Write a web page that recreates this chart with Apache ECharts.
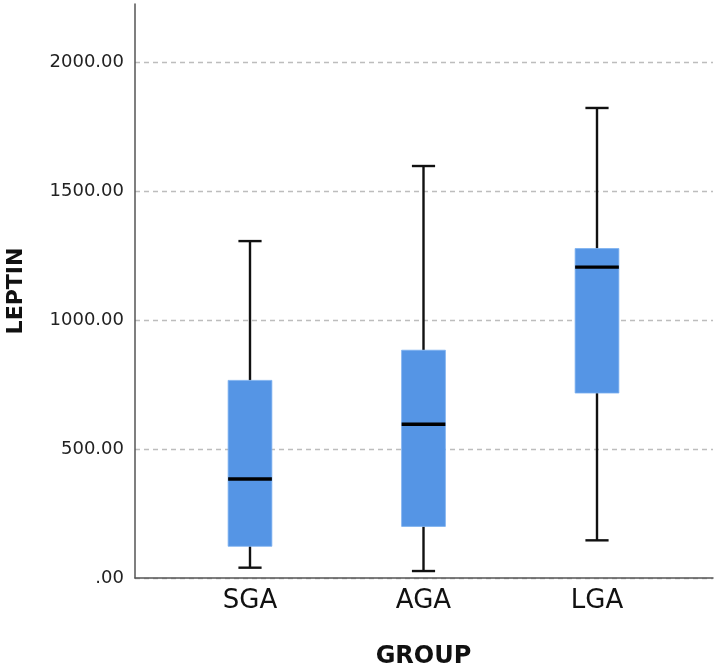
<!DOCTYPE html>
<html>
<head>
<meta charset="utf-8">
<script src="https://cdn.jsdelivr.net/npm/echarts@6/dist/echarts.min.js"></script>
<style>
html,body{margin:0;padding:0;background:#fff;}
#chart{width:717px;height:669px;}
</style>
</head>
<body>
<div id="chart"></div>
<script>
// Data
var categories = ['SGA', 'AGA', 'LGA'];
var whiskerLow = [40, 27, 146];
var q1Values = [123, 200, 717];
var medians = [384, 596, 1205];
var q3Values = [766, 883, 1277];
var whiskerHigh = [1306, 1597, 1822];
var yTicks = [0, 500, 1000, 1500, 2000];
var yMax = 2225;

var chart = echarts.init(document.getElementById('chart'), null, {renderer: 'canvas'});

var boxData = categories.map(function (c, i) {
  return [i, whiskerLow[i], q1Values[i], medians[i], q3Values[i], whiskerHigh[i]];
});

function renderBox(params, api) {
  var x = api.value(0);
  var pLow = api.coord([x, api.value(1)]);
  var pQ1 = api.coord([x, api.value(2)]);
  var pMed = api.coord([x, api.value(3)]);
  var pQ3 = api.coord([x, api.value(4)]);
  var pHigh = api.coord([x, api.value(5)]);
  var band = api.size([1, 0])[0];
  var bw = band * 0.252;
  var cw = bw * 0.53;
  var cx = pMed[0];
  var lineStyle = {stroke: '#111', lineWidth: 2.4, fill: null};
  return {
    type: 'group',
    children: [
      {type: 'line', shape: {x1: cx, y1: pQ3[1], x2: cx, y2: pHigh[1]}, style: lineStyle},
      {type: 'line', shape: {x1: cx, y1: pQ1[1], x2: cx, y2: pLow[1]}, style: lineStyle},
      {type: 'line', shape: {x1: cx - cw / 2, y1: pHigh[1], x2: cx + cw / 2, y2: pHigh[1]}, style: lineStyle},
      {type: 'line', shape: {x1: cx - cw / 2, y1: pLow[1], x2: cx + cw / 2, y2: pLow[1]}, style: lineStyle},
      {type: 'rect', shape: {x: cx - bw / 2, y: pQ3[1], width: bw, height: pQ1[1] - pQ3[1]},
        style: {fill: '#5595e5', stroke: '#7aaef0', lineWidth: 0.8}},
      {type: 'line', shape: {x1: cx - bw / 2, y1: pMed[1], x2: cx + bw / 2, y2: pMed[1]},
        style: {stroke: '#000', lineWidth: 3.4}}
    ]
  };
}

var option = {
  animation: false,
  backgroundColor: '#fff',
  grid: [
    {left: 135, right: 4, top: 4, bottom: 91, containLabel: false, outerBoundsMode: 'none'},
    {left: 163.25, right: 33.25, top: 4, bottom: 91, containLabel: false, outerBoundsMode: 'none'}
  ],
  xAxis: [
    {
      gridIndex: 0, type: 'value', min: 0, max: 1,
      axisLine: {show: true, onZero: false, lineStyle: {color: '#555', width: 1.5}},
      axisTick: {show: false}, axisLabel: {show: false}, splitLine: {show: false}
    },
    {
      gridIndex: 1, type: 'category', data: categories,
      axisLine: {show: false}, axisTick: {show: false}, splitLine: {show: false},
      axisLabel: {fontFamily: 'DejaVu Sans', fontSize: 26, color: '#111', margin: 10},
      name: 'GROUP', nameLocation: 'middle', nameGap: 67,
      nameTextStyle: {fontFamily: 'DejaVu Sans', fontWeight: 'bold', fontSize: 24, color: '#111'}
    }
  ],
  yAxis: [
    {
      gridIndex: 0, type: 'value', min: 0, max: yMax, interval: 500,
      axisLine: {show: true, lineStyle: {color: '#555', width: 1.5}},
      axisTick: {show: false},
      axisLabel: {
        fontFamily: 'DejaVu Sans', fontSize: 18, color: '#222', margin: 11,
        showMaxLabel: false,
        formatter: function (v) {
          if (yTicks.indexOf(v) < 0) return '';
          return v === 0 ? '.00' : v.toFixed(2);
        }
      },
      splitLine: {show: true, showMaxLine: false, lineStyle: {color: '#bdbdbd', width: 1.3, type: [5, 4]}},
      name: 'LEPTIN', nameLocation: 'middle', nameGap: 108,
      nameTextStyle: {fontFamily: 'DejaVu Sans', fontWeight: 'bold', fontSize: 22, color: '#111'}
    },
    {
      gridIndex: 1, type: 'value', min: 0, max: yMax,
      axisLine: {show: false}, axisTick: {show: false}, axisLabel: {show: false}, splitLine: {show: false}
    }
  ],
  series: [
    {
      type: 'custom', xAxisIndex: 1, yAxisIndex: 1,
      renderItem: renderBox,
      encode: {x: 0, y: [1, 2, 3, 4, 5]},
      data: boxData
    }
  ]
};
chart.setOption(option);
</script>
</body>
</html>
